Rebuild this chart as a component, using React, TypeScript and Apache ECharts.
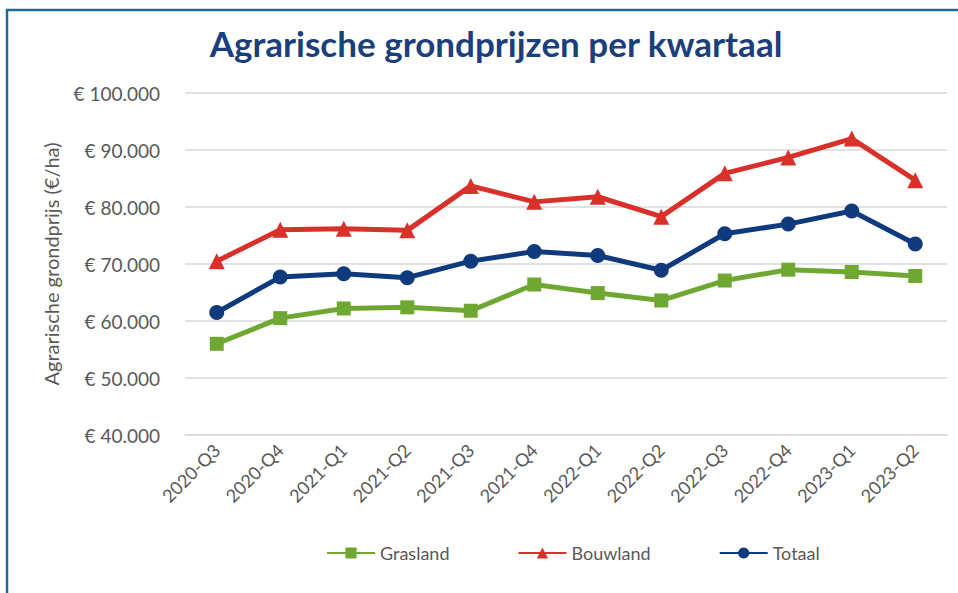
import React, { useEffect, useRef } from "react";
import * as echarts from "echarts";

const categories = [
  "2020-Q3", "2020-Q4", "2021-Q1", "2021-Q2", "2021-Q3", "2021-Q4",
  "2022-Q1", "2022-Q2", "2022-Q3", "2022-Q4", "2023-Q1", "2023-Q2",
];
const grasland = [56000, 60500, 62200, 62400, 61800, 66400, 64900, 63600, 67100, 69000, 68600, 67900];
const bouwland = [70500, 76000, 76200, 75900, 83700, 80900, 81800, 78300, 85900, 88700, 92000, 84700];
const totaal = [61500, 67700, 68300, 67600, 70500, 72200, 71500, 68900, 75300, 77000, 79300, 73500];

const FONT = "Lato, 'Open Sans', sans-serif";

function fmt(v: number): string {
  const s = Math.round(v).toString().replace(/\B(?=(\d{3})+(?!\d))/g, ".");
  return "€ " + s;
}

export default function App() {
  const ref = useRef<HTMLDivElement>(null);
  useEffect(() => {
    if (!ref.current) return;
    const chart = echarts.init(ref.current, undefined, { renderer: "svg" });
    chart.setOption({
      animation: false,
      backgroundColor: "#ffffff",
      textStyle: { fontFamily: FONT },
      title: {
        text: "Agrarische grondprijzen per kwartaal",
        left: 491,
        textAlign: "center",
        top: 20,
        textStyle: { fontFamily: FONT, fontSize: 35, fontWeight: "bold", color: "#1b3f7d" },
      },
      graphic: [
        {
          type: "rect",
          shape: { x: 7, y: 10, width: 1000, height: 700 },
          style: { fill: "none", stroke: "#1f6b94", lineWidth: 2.5 },
          silent: true,
        },
      ],
      legend: {
        left: 321,
        top: 539,
        itemWidth: 48,
        itemHeight: 14,
        itemGap: 68,
        textStyle: { fontFamily: FONT, fontSize: 18, color: "#595959" },
        data: ["Grasland", "Bouwland", "Totaal"],
      },
      grid: { left: 185, right: 11, top: 93, bottom: 158 },
      xAxis: {
        type: "category",
        data: categories,
        boundaryGap: true,
        axisTick: { show: false },
        axisLine: { show: true, lineStyle: { color: "#d9d9d9", width: 1.5 } },
        axisLabel: { rotate: 45, fontSize: 18, color: "#595959", margin: 12, fontFamily: FONT },
      },
      yAxis: {
        type: "value",
        min: 40000,
        max: 100000,
        interval: 10000,
        name: "Agrarische grondprijs (€/ha)",
        nameLocation: "middle",
        nameGap: 124,
        nameRotate: 90,
        nameTextStyle: { fontSize: 20, color: "#595959", fontFamily: FONT },
        axisLabel: { formatter: fmt, fontSize: 19, color: "#595959", margin: 25, fontFamily: FONT },
        splitLine: { lineStyle: { color: "#d9d9d9", width: 1.5 } },
        axisLine: { show: false },
        axisTick: { show: false },
      },
      series: [
        {
          name: "Grasland",
          type: "line",
          data: grasland,
          color: "#6ea832",
          symbol: "rect",
          symbolSize: 14,
          lineStyle: { width: 5 },
          itemStyle: { color: "#6ea832" },
        },
        {
          name: "Bouwland",
          type: "line",
          data: bouwland,
          color: "#d9302a",
          symbol: "triangle",
          symbolSize: 16,
          lineStyle: { width: 5 },
          itemStyle: { color: "#d9302a" },
        },
        {
          name: "Totaal",
          type: "line",
          data: totaal,
          color: "#0f3a7e",
          symbol: "circle",
          symbolSize: 15,
          lineStyle: { width: 5 },
          itemStyle: { color: "#0f3a7e" },
        },
      ],
    });
    return () => chart.dispose();
  }, []);
  return (
    <div style={{ position: "absolute", left: 0, top: 0, width: 958, height: 593 }}>
      <div ref={ref} style={{ width: 958, height: 593 }} />
    </div>
  );
}
